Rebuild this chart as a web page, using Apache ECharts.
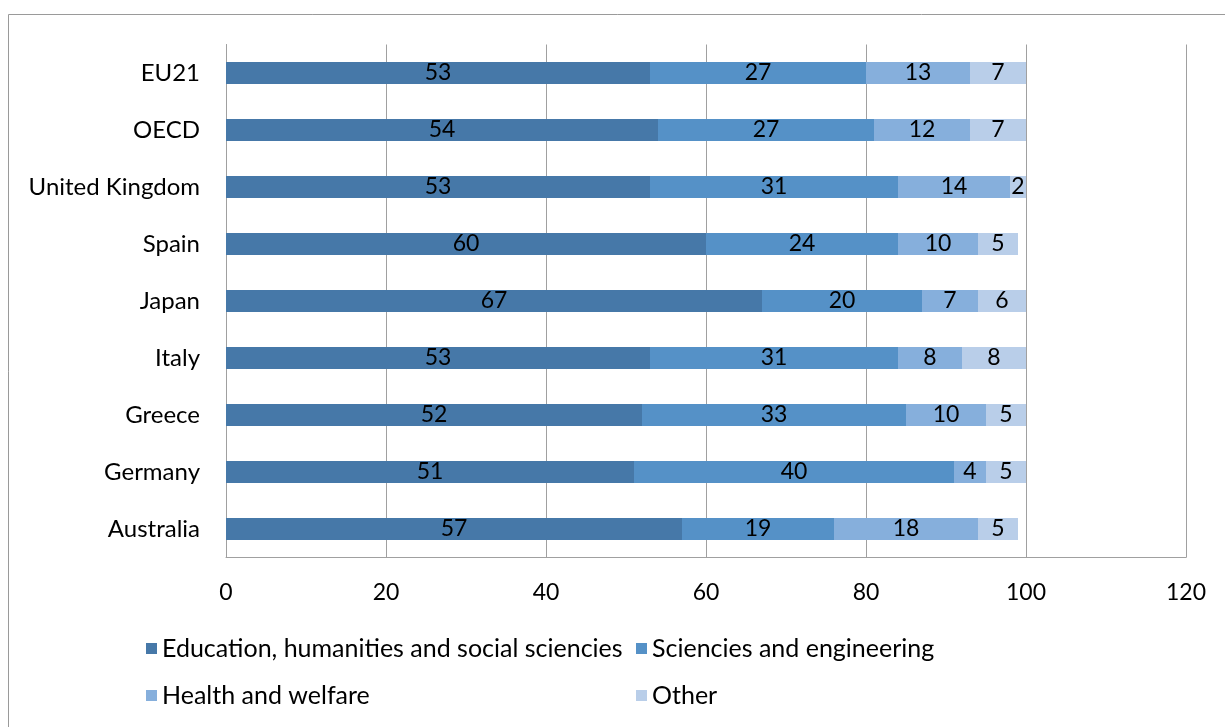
<!DOCTYPE html>
<html><head><meta charset="utf-8">
<script src="https://cdn.jsdelivr.net/npm/echarts@6/dist/echarts.min.js"></script>
<style>html,body{margin:0;padding:0;background:#fff}#c{width:1225px;height:727px}</style>
</head><body><div id="c"></div>
<script>
const categories = ["Australia","Germany","Greece","Italy","Japan","Spain","United Kingdom","OECD","EU21"];
const education = [57,51,52,53,67,60,53,54,53];
const sciences  = [19,40,33,31,20,24,31,27,27];
const health    = [18,4,10,8,7,10,14,12,13];
const other     = [5,5,5,8,6,5,2,7,7];
const seriesNames = ["Education, humanities and social sciencies","Sciencies and engineering","Health and welfare","Other"];
const colors = ["#4678A8","#5591C7","#86AFDC","#B9CEE9"];
const FONT = "Lato, 'Noto Sans', sans-serif";
const data = [education, sciences, health, other];
const chart = echarts.init(document.getElementById('c'));
chart.setOption({
  animation:false,
  textStyle:{fontFamily:FONT},
  graphic:[{type:'rect',shape:{x:8.5,y:14.5,width:1230,height:730},style:{fill:null,stroke:'#9a9a9a',lineWidth:1},silent:true}],
  grid:{left:226,right:39,top:44.5,bottom:169.5,containLabel:false},
  xAxis:{type:'value',min:0,max:120,interval:20,
    axisLine:{show:true,lineStyle:{color:'#a0a0a0'}},axisTick:{show:false},
    axisLabel:{color:'#000',fontSize:23,margin:24,fontFamily:FONT},
    splitLine:{show:true,lineStyle:{color:'#a0a0a0',width:1}}},
  yAxis:{type:'category',data:categories,
    axisLine:{show:true,lineStyle:{color:'#a0a0a0'}},axisTick:{show:false},
    axisLabel:{color:'#000',fontSize:24,margin:26,fontFamily:FONT}},
  legend:[
    {data:[seriesNames[0],seriesNames[2]],orient:'vertical',left:146,top:636,itemGap:22,itemWidth:11,itemHeight:11,icon:'rect',
     textStyle:{fontSize:25,lineHeight:25,color:'#000',fontFamily:FONT},padding:0},
    {data:[seriesNames[1],seriesNames[3]],orient:'vertical',left:636,top:636,itemGap:22,itemWidth:11,itemHeight:11,icon:'rect',
     textStyle:{fontSize:25,lineHeight:25,color:'#000',fontFamily:FONT},padding:0}
  ],
  series:data.map((d,i)=>({
    name:seriesNames[i],type:'bar',stack:'total',data:d,barWidth:22,
    itemStyle:{color:colors[i]},
    label:{show:true,position:'inside',color:'#000',fontSize:23,fontFamily:FONT}
  }))
});
</script></body></html>
